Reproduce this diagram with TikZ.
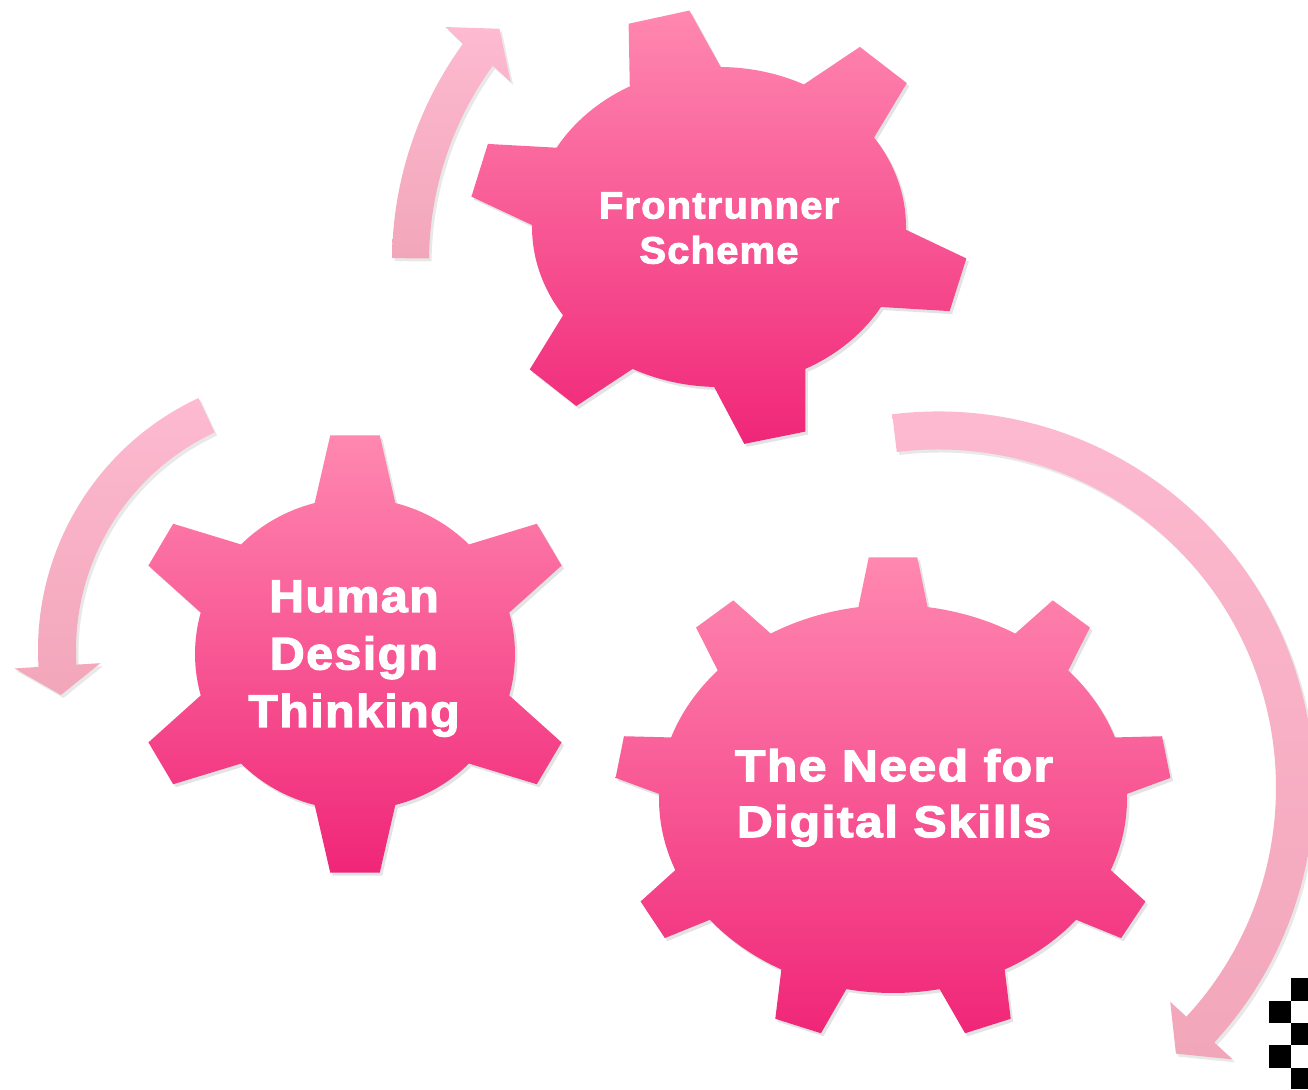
\documentclass[tikz,border=0pt]{standalone}
\usepackage{fontspec}
\usepackage{graphicx}
\newfontfamily\gearfont{Liberation Sans Bold}[FakeBold=2.5, LetterSpace=3]
\usetikzlibrary{shadows}
\definecolor{geartop}{RGB}{255,136,176}
\definecolor{gearbot}{RGB}{240,38,120}
\definecolor{arrtop}{RGB}{253,186,209}
\definecolor{arrbot}{RGB}{242,166,186}
\tikzset{
  gearbody/.style={top color=geartop, bottom color=gearbot, draw=none,
    drop shadow={opacity=0.22, shadow xshift=2.5pt, shadow yshift=-3pt}},
  cyclearrow/.style={top color=arrtop, bottom color=arrbot, draw=none,
    drop shadow={opacity=0.18, shadow xshift=2.5pt, shadow yshift=-3pt}},
  gearlabel/.style={text=white, inner sep=0pt, font=\gearfont},
  pixel/.style={fill=black, draw=none}
}
% #1 cx, #2 cy, #3 rx, #4 ry, #5 tip radii "a and b", #6 base half angle, #7 tip half angle, #8 sorted tooth angles, #9 last angle
\newcommand{\gearshape}[9]{%
  \path[gearbody, shift={(#1,#2)}]
    ({#9+#6-360}:#3 and #4)
    \foreach \a [remember=\a as \p (initially #9-360)] in {#8}{
      arc[start angle={\p+#6}, end angle={\a-#6}, x radius=#3, y radius=#4]
      -- ({\a-#7}:#5)
      -- ({\a+#7}:#5)
      -- ({\a+#6}:#3 and #4)
    } -- cycle;
}
\begin{document}
\begin{tikzpicture}[x=1pt,y=1pt]
\useasboundingbox[fill=white] (0,0) rectangle (1308,1089);

% cycle arrows
\path[cyclearrow, shift={(763,827)}]
  (179.4:371) arc[start angle=179.4, end angle=144, radius=371]
  -- (143.5:395) -- (138.5:352) -- (144.5:310) -- (144:334)
  arc[start angle=144, end angle=179.4, radius=334] -- cycle;
\path[cyclearrow, shift={(316,439)}]
  (115:278) arc[start angle=115, end angle=183.5, radius=278]
  -- (183.5:302) -- (190:259) -- (183.5:216) -- (183.5:240)
  arc[start angle=183.5, end angle=115, radius=240] -- cycle;
\path[cyclearrow, shift={(938,301.5)}]
  (97:376) arc[start angle=97, end angle=-42.7, radius=376]
  -- (-42.7:401) -- (-48.2:357) -- (-42.7:316) -- (-42.7:338)
  arc[start angle=-42.7, end angle=97, radius=338] -- cycle;

% gears
\gearshape{719}{862}{187}{160}{250 and 218}{14.5}{7.2}{-132,-77,-15.5,48.5,104,164.8}{164.8}
\gearshape{355}{435}{160}{156}{225.6 and 220}{14.6}{6.3}{-150,-90,-30,30,90,150}{150}
\gearshape{893}{290}{234}{194}{278.5 and 242.5}{8.5}{5}{-150,-110,-70,-30,10,50,90,130,170}{170}

% labels
\node[gearlabel] (fr) at (719,857) {\fontsize{38}{45}\selectfont
  \scalebox{1.05}[1]{\begin{tabular}{@{}c@{}}Frontrunner\\Scheme\end{tabular}}};
\node[gearlabel] (hdt) at (354,431) {\fontsize{46}{57.5}\selectfont
  \scalebox{1.05}[1]{\begin{tabular}{@{}c@{}}Human\\Design\\Thinking\end{tabular}}};
\node[gearlabel] (nds) at (894,291) {\fontsize{44.5}{56}\selectfont
  \scalebox{1.12}[1]{\begin{tabular}{@{}c@{}}The Need for\\Digital Skills\end{tabular}}};

% corner pixels
\path[pixel] (1291,111) rectangle (1308,88);
\path[pixel] (1269,88) rectangle (1291,66);
\path[pixel] (1291,66) rectangle (1308,44);
\path[pixel] (1269,44) rectangle (1291,21);
\path[pixel] (1291,21) rectangle (1308,0);
\end{tikzpicture}
\end{document}
